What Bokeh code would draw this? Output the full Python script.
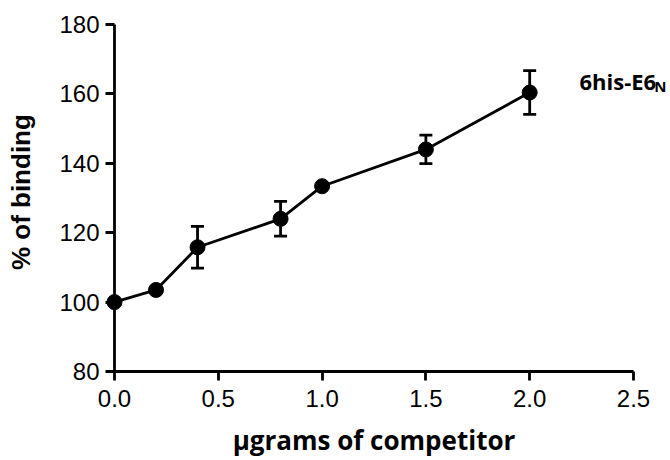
import math
from bokeh.plotting import figure
from bokeh.models import Range1d, FixedTicker, PrintfTickFormatter
from bokeh.core.properties import value
from bokeh.embed import file_html
from bokeh.resources import INLINE

# ---- data ----
dose = [0.0, 0.2, 0.4, 0.8, 1.0, 1.5, 2.0]
binding = [100.0, 103.5, 115.8, 124.0, 133.4, 144.0, 160.4]
sem = [0.0, 0.0, 6.0, 5.0, 0.0, 4.1, 6.3]
x_ticks = [0.0, 0.5, 1.0, 1.5, 2.0, 2.5]
y_ticks = [80, 100, 120, 140, 160, 180]
series_name = "6his-E6"
series_sub = "N"
x_title = "\u03bcgrams of competitor"
y_title = "% of binding"

W, H = 670, 460
p = figure(width=W, height=H, output_backend="svg", toolbar_location=None,
           x_range=Range1d(-0.5491, 2.6783), y_range=Range1d(54.35, 186.92),
           min_border_left=0, min_border_right=0, min_border_top=0,
           min_border_bottom=0)
p.outline_line_color = None
p.grid.visible = False
p.background_fill_color = "white"
p.border_fill_color = "white"

xa = p.xaxis[0]
xa.ticker = FixedTicker(ticks=x_ticks)
xa.formatter = PrintfTickFormatter(format="%.1f")
xa.bounds = (x_ticks[0], x_ticks[-1])
xa.fixed_location = y_ticks[0]
ya = p.yaxis[0]
ya.ticker = FixedTicker(ticks=y_ticks)
ya.bounds = (y_ticks[0], y_ticks[-1])
ya.fixed_location = x_ticks[0]

for ax in (xa, ya):
    ax.axis_line_width = 2.8
    ax.axis_line_color = "black"
    ax.major_tick_line_width = 2.8
    ax.major_tick_line_color = "black"
    ax.major_tick_out = 9
    ax.major_tick_in = 0
    ax.minor_tick_line_color = None
    ax.major_label_text_font = "Liberation Sans"
    ax.major_label_text_font_size = "24px"
    ax.major_label_text_color = "black"
xa.major_label_standoff = 10
ya.major_label_standoff = 6

# axis titles
p.text(x=[(x_ticks[0] + x_ticks[-1]) / 2], y=[60.4], text=[x_title],
       text_font=value("Open Sans"), text_font_size="26px",
       text_font_style="bold", text_color="black",
       text_align="center", text_baseline="alphabetic")
p.text(x=[-0.448], y=[131.7], text=[y_title], angle=math.pi / 2,
       text_font=value("Liberation Sans"), text_font_size="26px",
       text_font_style="bold", text_color="black",
       text_align="center", text_baseline="alphabetic")

# error bars
ex = [d for d, e in zip(dose, sem) if e > 0]
hi = [b + e for b, e in zip(binding, sem) if e > 0]
lo = [b - e for b, e in zip(binding, sem) if e > 0]
p.segment(x0=ex, y0=lo, x1=ex, y1=hi, line_width=2.8, line_color="black")
p.scatter(ex, hi, marker="dash", size=13, line_width=2.8, line_color="black")
p.scatter(ex, lo, marker="dash", size=13, line_width=2.8, line_color="black")

p.line(dose, binding, line_width=2.8, line_color="black")
p.scatter(dose, binding, marker="circle", size=15, fill_color="black",
          line_color="black")

# series label with subscript
p.text(x=[2.24], y=[163.7], text=[series_name], text_font=value("Open Sans"),
       text_font_size="22px", text_font_style="bold", text_color="black",
       text_baseline="alphabetic", text_align="left")
p.text(x=[2.60], y=[162.3], text=[series_sub], text_font=value("Open Sans"),
       text_font_size="15px", text_font_style="bold", text_color="black",
       text_baseline="alphabetic", text_align="left")

open("out.html", "w").write(file_html(p, INLINE))
